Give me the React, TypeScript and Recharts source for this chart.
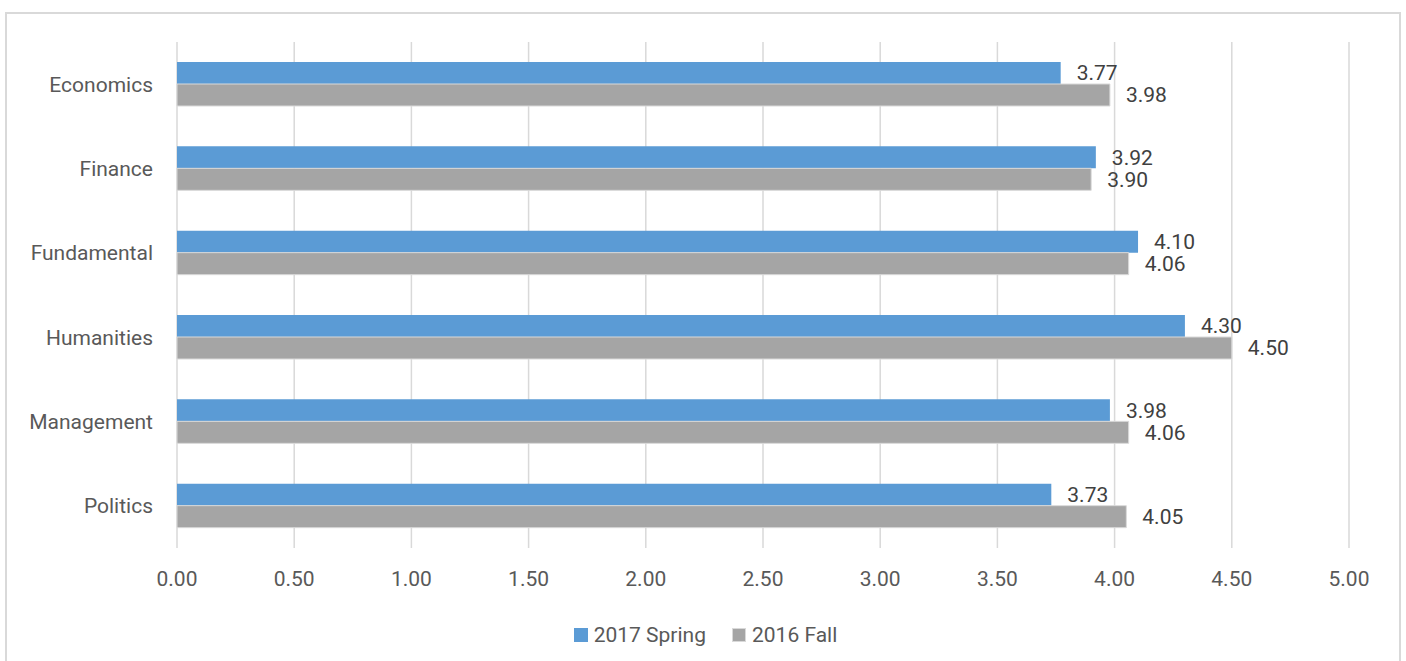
import { Bar, BarChart, CartesianGrid, LabelList, Legend, XAxis, YAxis } from "recharts";

const categories = ["Economics", "Finance", "Fundamental", "Humanities", "Management", "Politics"];
const spring2017 = [3.77, 3.92, 4.1, 4.3, 3.98, 3.73];
const fall2016 = [3.98, 3.9, 4.06, 4.5, 4.06, 4.05];
const xTicks = [0, 0.5, 1, 1.5, 2, 2.5, 3, 3.5, 4, 4.5, 5];

const data = categories.map((name, i) => ({
    name,
    spring: spring2017[i],
    fall: fall2016[i],
}));

const FONT = "Roboto, 'Noto Sans', sans-serif";
const BLUE = "#5b9bd5";
const GRAY = "#a5a5a5";

const legendItems = [
    { label: "2017 Spring", color: BLUE, border: BLUE },
    { label: "2016 Fall", color: GRAY, border: "#d9d9d9" },
];

function ChartLegend() {
    return (
        <div style={{ display: "flex", justifyContent: "center", fontFamily: FONT, fontSize: 21, color: "#595959", height: 26, alignItems: "center", paddingLeft: 62 }}>
            {legendItems.map((item, i) => (
                <div key={item.label} style={{ display: "flex", alignItems: "center", marginLeft: i > 0 ? 26 : 0 }}>
                    <span style={{ width: 12, height: 12, background: item.color, border: `1px solid ${item.border}`, marginRight: 6, display: "inline-block" }} />
                    <span>{item.label}</span>
                </div>
            ))}
        </div>
    );
}

export default function App() {
    return (
        <div style={{ position: "fixed", left: 0, top: 0, width: 1406, height: 661, overflow: "hidden", background: "#fff" }}>
            <div style={{ position: "absolute", left: 5, top: 12, width: 1392, height: 660, boxSizing: "content-box", borderTop: "2px solid #d9d9d9", borderLeft: "2px solid #d9d9d9", borderRight: "2px solid #d9d9d9" }} />
            <div style={{ position: "absolute", left: 0, top: 0 }}>
                <BarChart
                    width={1406}
                    height={661}
                    data={data}
                    layout="vertical"
                    margin={{ top: 42, right: 57, left: 0, bottom: 13 }}
                    barCategoryGap={20}
                    barGap={0}
                >
                    <CartesianGrid horizontal={false} stroke="#d9d9d9" strokeWidth={1.5} />
                    <XAxis
                        type="number"
                        domain={[0, 5]}
                        ticks={xTicks}
                        tickFormatter={(v: number) => v.toFixed(2)}
                        axisLine={false}
                        tickLine={false}
                        tickSize={0}
                        tickMargin={23}
                        height={74}
                        tick={{ fill: "#595959", fontSize: 21, fontFamily: FONT }}
                        interval={0}
                    />
                    <YAxis
                        type="category"
                        dataKey="name"
                        width={177}
                        axisLine={false}
                        tickLine={false}
                        tickSize={0}
                        tickMargin={24}
                        tick={{ fill: "#595959", fontSize: 21, fontFamily: FONT }}
                    />
                    <Legend verticalAlign="bottom" content={<ChartLegend />} />
                    <Bar dataKey="spring" name="2017 Spring" fill={BLUE} isAnimationActive={false}>
                        <LabelList
                            dataKey="spring"
                            position="right"
                            offset={16}
                            formatter={(v: number) => v.toFixed(2)}
                            style={{ fill: "#404040", fontSize: 21, fontFamily: FONT }}
                        />
                    </Bar>
                    <Bar dataKey="fall" name="2016 Fall" fill={GRAY} stroke="#d9d9d9" strokeWidth={1} isAnimationActive={false}>
                        <LabelList
                            dataKey="fall"
                            position="right"
                            offset={16}
                            formatter={(v: number) => v.toFixed(2)}
                            style={{ fill: "#404040", fontSize: 21, fontFamily: FONT }}
                        />
                    </Bar>
                </BarChart>
            </div>
        </div>
    );
}
